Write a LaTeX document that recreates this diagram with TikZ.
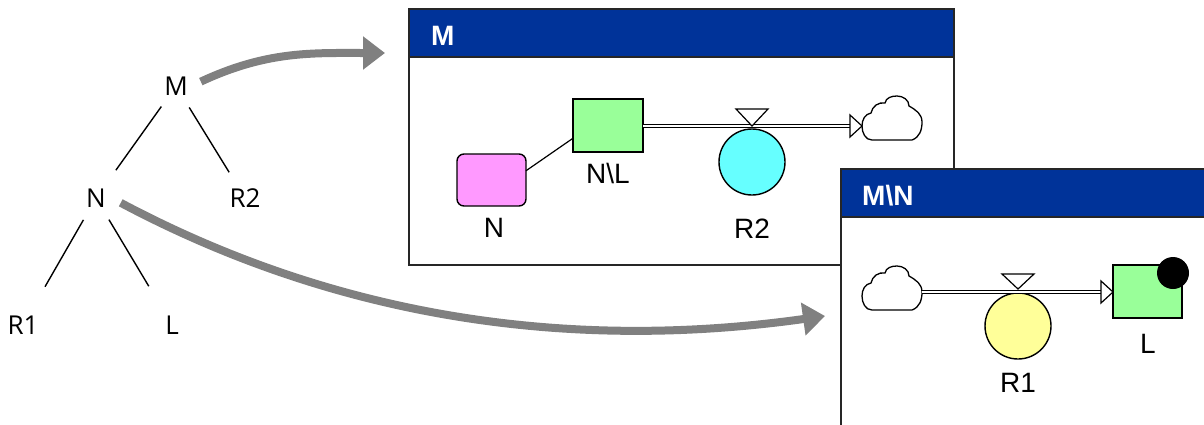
\documentclass[tikz,border=0pt]{standalone}
\usepackage{fontspec}
\setmainfont{Liberation Sans}
\newfontfamily\treefont{Open Sans}
\usetikzlibrary{arrows.meta,calc}
\definecolor{titleblue}{HTML}{003399}
\definecolor{arrowgray}{HTML}{808080}
\definecolor{stockgreen}{HTML}{99FF99}
\definecolor{auxpink}{HTML}{FF99FF}
\definecolor{convcyan}{HTML}{66FFFF}
\definecolor{convyellow}{HTML}{FFFF99}
\tikzset{
  treenode/.style={circle, minimum size=50pt, inner sep=0pt, font=\treefont\fontsize{26}{26}\selectfont},
  treeedge/.style={line width=1.4pt},
  bigarrow/.style={line width=8pt, draw=arrowgray, -{Triangle[length=22pt,width=32pt]}},
  winframe/.style={draw=black!85, line width=1.8pt, fill=white, inner sep=0pt, outer sep=0pt},
  winbar/.style={draw=black!85, line width=1.8pt, fill=titleblue, inner sep=0pt, outer sep=0pt},
  wintitle/.style={text=white, font=\bfseries\fontsize{28}{28}\selectfont, inner sep=0pt, anchor=base west},
  lbl/.style={font=\fontsize{28}{28}\selectfont, inner sep=0pt, anchor=base},
  stockbox/.style={draw, line width=1.4pt, fill=stockgreen, minimum width=70pt, minimum height=53pt, inner sep=0pt, outer sep=0pt},
  auxbox/.style={draw, line width=1.4pt, fill=auxpink, rounded corners=7pt, minimum width=69pt, minimum height=52pt, inner sep=0pt, outer sep=0pt},
  convnode/.style={circle, draw, line width=1.4pt, minimum size=66pt, inner sep=0pt, outer sep=0pt},
  pipeline/.style={line width=1.2pt, double=white, double distance=2.5pt},
  hollowhead/.style={draw, fill=white, line width=1.2pt},
  valveshape/.style={draw, fill=white, line width=1.2pt},
  cloudpic/.pic={
    \draw[line width=1.3pt, fill=white] (-20,-22) -- (20,-22)
      to[out=20,in=-90] (30,-4)
      to[out=90,in=-30] (17,12)
      to[out=90,in=0] (5,22)
      to[out=180,in=80] (-7,15)
      to[out=170,in=80] (-21,5)
      to[out=190,in=90] (-30,-8)
      to[out=-90,in=180] cycle;
    \coordinate (-w) at (-30,-8);
    \coordinate (-e) at (30,-4);
  }
}
\begin{document}
\begin{tikzpicture}[x=1pt,y=1pt]
\useasboundingbox (0,0) rectangle (1204,-424);

% tree
\node[treenode] (tM) at (176,-86) {M};
\node[treenode] (tN) at (96,-198) {N};
\node[treenode] (tR2) at (245,-198) {R2};
\node[treenode] (tR1) at (23,-325) {R1};
\node[treenode] (tL) at (172,-325) {L};
\draw[treeedge, shorten >=9pt] (tM) -- (tN);
\draw[treeedge, shorten >=5pt] (tM) -- (tR2);
\draw[treeedge, shorten >=19pt] (tN) -- (tR1);
\draw[treeedge, shorten >=20pt] (tN) -- (tL);

% window M
\node[winframe, minimum width=545pt, minimum height=256pt, anchor=north west] (winM) at (409,-9) {};
\node[winbar, minimum width=545pt, minimum height=48pt, anchor=north west] (barM) at (winM.north west) {};
\node[wintitle] (tiM) at (431,-45) {M};

% gray arrows
\coordinate (endA) at ($(winM.north west)+(-24,-44)$);
\draw[bigarrow] (tM.10) to[out=25,in=180] (endA);

% contents of M
\node[auxbox] (Nbox) at (491.5,-180) {};
\node[stockbox] (NL) at (608,-125.5) {};
\draw[line width=1.2pt] (Nbox.15) -- (NL.200);
\node[lbl] (NlblN) at (494,-237) {N};
\node[lbl] (NlblNL) at (608,-183) {N\textbackslash L};
\pic (cA) at (892,-118) {cloudpic};
\node[convnode, fill=convcyan] (R2c) at (752,-162) {};
\draw[pipeline] (NL.east |- cA-w) -- ([xshift=-12pt]cA-w);
\draw[hollowhead] (cA-w) -- ++(-12,11) -- ++(0,-22) -- cycle;
\draw[valveshape] ($(R2c.north)+(0,3)$) -- ++(-16,17) -- ++(32,0) -- cycle;
\node[lbl] (R2lbl) at (752,-238) {R2};

% window M\N
\node[winframe, minimum width=380pt, minimum height=270pt, anchor=north west] (winMN) at (841,-169) {};
\node[winbar, minimum width=380pt, minimum height=48pt, anchor=north west] (barMN) at (winMN.north west) {};
\node[wintitle] (tiMN) at (862,-205) {M\textbackslash N};
\coordinate (endB) at ($(winMN.north west)+(-16,-147)$);
\draw[bigarrow] (tN.-11) to[out=-28,in=188,looseness=0.9] (endB);

% contents of M\N
\pic (cB) at (892,-288) {cloudpic};
\node[convnode, fill=convyellow] (R1c) at (1018,-326) {};
\node[stockbox, minimum width=69pt] (Lbox) at (1147.5,-291.5) {};
\draw[pipeline] (cB-e) -- ([xshift=-12pt]Lbox.west |- cB-e);
\draw[hollowhead] (Lbox.west |- cB-e) -- ++(-12,11) -- ++(0,-22) -- cycle;
\draw[valveshape] ($(R1c.north)+(0,4)$) -- ++(-16,15) -- ++(32,0) -- cycle;
\node[circle, fill=black, minimum size=32pt, inner sep=0pt] (dot) at ($(Lbox.north east)+(-9,-8)$) {};
\node[lbl] (R1lbl) at (1018,-392) {R1};
\node[lbl] (Llbl) at (1148,-353) {L};
\end{tikzpicture}
\end{document}
